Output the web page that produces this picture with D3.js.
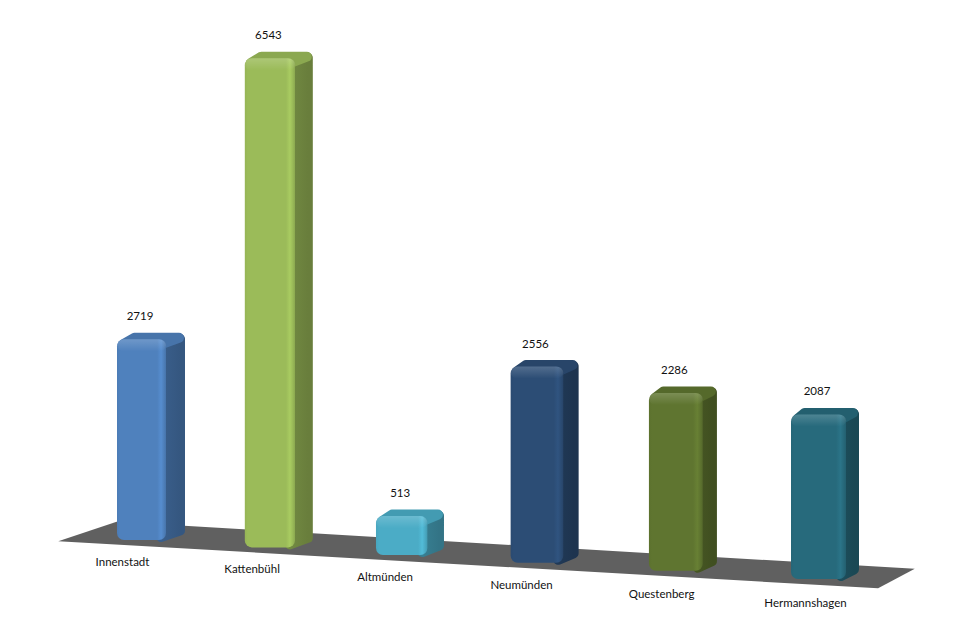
<!DOCTYPE html>
<html lang="de">
<head>
<meta charset="utf-8">
<title>Säulendiagramm 3D</title>
<script src="https://d3js.org/d3.v7.min.js"></script>
<style>
  body { margin: 0; background: #fff; font-family: Lato, "Noto Sans", sans-serif; }
  svg { display: block; }
  .cat, .val { font-size: 11.5px; fill: #111; text-anchor: middle; }
</style>
</head>
<body>
<script>
var categories = ["Innenstadt", "Kattenbühl", "Altmünden", "Neumünden", "Questenberg", "Hermannshagen"];
var values = [2719, 6543, 513, 2556, 2286, 2087];
var palette = ["#4f81bd", "#9bbb59", "#4bacc6", "#2c4d75", "#5f7530", "#276a7c"];

var width = 975, height = 629;
var svg = d3.select("body").append("svg")
    .attr("width", width)
    .attr("height", height);
var defs = svg.append("defs");

// position along the row of bars, 0 = far left, 1 = near right
var u = d3.scalePoint().domain(categories).range([0, 1]);
// value -> pixel height (at the far end of the row)
var h = d3.scaleLinear().domain([0, 6543]).range([0, 483]);
// screen position of the bar fronts
var rowX = d3.scaleLinear().domain([0, 1]).range([117, 791]);
var rowY = d3.scaleLinear().domain([117, 791]).range([540, 579]);
// one unit of depth (bar thickness) on screen
var depthX = d3.scaleLinear().domain([0, 1]).range([19, 13]);
var depthY = -6.5;
var barW = d3.scaleLinear().domain([0, 1]).range([49, 55]);

// simple perspective: things get larger towards the right
var c = -0.064;
function persp(t) { return 1 / (1 + c * t); }
function along(t) { return t * persp(t) / persp(1); }

function proj(t, depth, v) {
    var x = rowX(along(t));
    var y = rowY(x);
    return [x + depth * depthX(t), y + depth * depthY - h(v) * persp(t)];
}

// floor
var tL = -0.075, tR = 1.13;
var floorPts = [proj(tL, -0.6, 0), proj(tR, -0.6, 0), proj(tR, 2.4, 0), proj(tL, 2.4, 0)];
svg.append("path")
    .attr("d", d3.line()(floorPts) + "Z")
    .attr("fill", "#606060");

var data = categories.map(function(name, i) {
    var t = u(name);
    var b = proj(t, 0, 0);
    var tp = proj(t, 0, values[i]);
    return {
        name: name, value: values[i], color: palette[i], i: i, t: t,
        x0: b[0], yb: b[1], yt: tp[1],
        w: barW(t), dx: depthX(t), dy: depthY
    };
});

// gradients
var shine = defs.append("linearGradient").attr("id", "shine")
    .attr("x1", 0).attr("y1", 0).attr("x2", 0).attr("y2", 1);
shine.append("stop").attr("offset", "0%").attr("stop-color", "#fff").attr("stop-opacity", 0.18);
shine.append("stop").attr("offset", "100%").attr("stop-color", "#fff").attr("stop-opacity", 0);

data.forEach(function(d) {
    var base = d3.color(d.color);
    var g = defs.append("linearGradient").attr("id", "front" + d.i)
        .attr("x1", 0).attr("y1", 0).attr("x2", 1).attr("y2", 0);
    [[0, base.darker(0.1)], [0.06, base], [0.82, base], [0.9, base.brighter(0.25)],
     [0.95, base], [1, base.darker(0.3)]].forEach(function(s) {
        g.append("stop").attr("offset", s[0]).attr("stop-color", s[1]);
    });
    var sg = defs.append("linearGradient").attr("id", "side" + d.i)
        .attr("x1", 0).attr("y1", 0).attr("x2", 1).attr("y2", 0);
    sg.append("stop").attr("offset", 0).attr("stop-color", base.darker(0.85));
    sg.append("stop").attr("offset", 1).attr("stop-color", base.darker(1.1));
});

var bar = svg.append("g").selectAll("g")
    .data(data)
    .join("g");

// side face
bar.append("path")
    .attr("d", function(d) {
        var r = d.x0 + d.w;
        return d3.line()([
            [r - 5, d.yt + 5],
            [r + d.dx - 5, d.yt + d.dy + 6],
            [r + d.dx - 5, d.yb + d.dy - 3],
            [r - 5, d.yb - 3]
        ]) + "Z";
    })
    .attr("fill", function(d) { return "url(#side" + d.i + ")"; })
    .attr("stroke", function(d) { return "url(#side" + d.i + ")"; })
    .attr("stroke-width", 10)
    .attr("stroke-linejoin", "round");

// top face
bar.append("path")
    .attr("d", function(d) {
        return d3.line()([
            [d.x0 + 6, d.yt + 5],
            [d.x0 + d.dx * 0.6 + 6, d.yt + d.dy + 5],
            [d.x0 + d.w + d.dx - 6, d.yt + d.dy + 5],
            [d.x0 + d.w - 5, d.yt + 5]
        ]) + "Z";
    })
    .attr("fill", function(d) { return d3.color(d.color).darker(0.3); })
    .attr("stroke", function(d) { return d3.color(d.color).darker(0.3); })
    .attr("stroke-width", 10)
    .attr("stroke-linejoin", "round");

// front face
bar.append("rect")
    .attr("x", function(d) { return d.x0; })
    .attr("y", function(d) { return d.yt; })
    .attr("width", function(d) { return d.w; })
    .attr("height", function(d) { return d.yb - d.yt; })
    .attr("rx", 7)
    .attr("fill", function(d) { return "url(#front" + d.i + ")"; });

// bevel shine along the top edge
bar.append("rect")
    .attr("x", function(d) { return d.x0; })
    .attr("y", function(d) { return d.yt; })
    .attr("width", function(d) { return d.w; })
    .attr("height", function(d) { return Math.min(12, d.yb - d.yt); })
    .attr("rx", 7)
    .attr("fill", "url(#shine)");

// value labels
bar.append("text")
    .attr("class", "val")
    .attr("x", function(d) { return d.x0 + d.w / 2 - 1.5; })
    .attr("y", function(d) { return d.yt - 19; })
    .text(function(d) { return d.value; });

// category labels
bar.append("text")
    .attr("class", "cat")
    .attr("x", function(d) { var p = proj(d.t, -1, 0); return p[0] + d.w / 2; })
    .attr("y", function(d) { var p = proj(d.t, -1, 0); return p[1] + 19 + 2 * d.t; })
    .text(function(d) { return d.name; });
</script>
</body>
</html>
